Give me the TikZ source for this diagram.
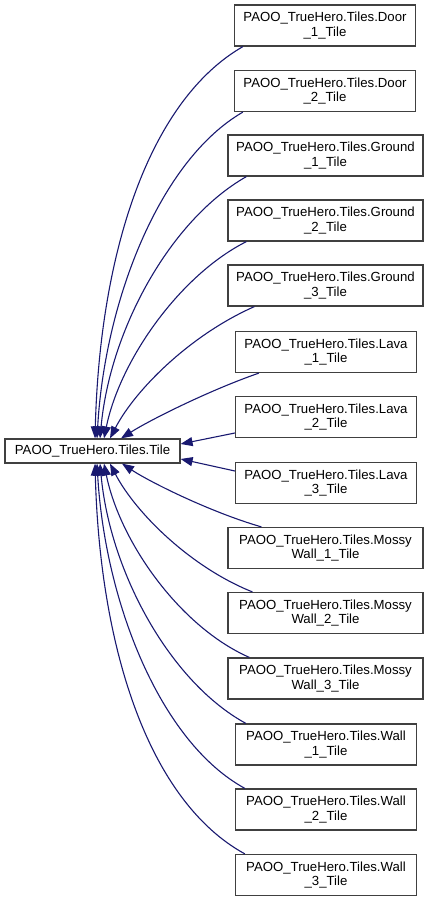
\documentclass[tikz,border=0pt]{standalone}
\usepackage{fontspec}
\setmainfont{Liberation Sans}
\usetikzlibrary{arrows.meta}
\definecolor{edgeblue}{HTML}{191970}
\definecolor{boxgray}{HTML}{404040}
\tikzset{
  cls/.style={draw=boxgray, line width=1.2pt, fill=white, inner sep=0pt, align=center,
    minimum height=41, font=\fontsize{13.2}{14.5}\selectfont},
  narrow/.style={cls, minimum width=181},
  wide/.style={cls, minimum width=195},
  base/.style={draw=boxgray, line width=1.2pt, fill=white, inner sep=0pt,
    minimum width=175, minimum height=24, font=\fontsize{13.2}{14.5}\selectfont},
  edge/.style={draw=edgeblue, line width=1.1pt, -{Triangle[length=12pt,width=9pt,fill=edgeblue]}}
}
\begin{document}
\begin{tikzpicture}[x=1pt,y=-1pt]
\useasboundingbox (0,0) rectangle (429,901);
\node[base] (t) at (92.5,451) {PAOO\_TrueHero.Tiles.Tile};
\node[narrow] (d1) at (325,25.5) {PAOO\_TrueHero.Tiles.Door\\\_1\_Tile};
\node[narrow] (d2) at (325,91) {PAOO\_TrueHero.Tiles.Door\\\_2\_Tile};
\node[wide] (g1) at (325.5,155.5) {PAOO\_TrueHero.Tiles.Ground\\\_1\_Tile};
\node[wide] (g2) at (325.5,220.5) {PAOO\_TrueHero.Tiles.Ground\\\_2\_Tile};
\node[wide] (g3) at (325.5,285.5) {PAOO\_TrueHero.Tiles.Ground\\\_3\_Tile};
\node[narrow] (l1) at (326,352) {PAOO\_TrueHero.Tiles.Lava\\\_1\_Tile};
\node[narrow] (l2) at (326,417) {PAOO\_TrueHero.Tiles.Lava\\\_2\_Tile};
\node[narrow] (l3) at (326,483) {PAOO\_TrueHero.Tiles.Lava\\\_3\_Tile};
\node[wide] (m1) at (325.5,548) {PAOO\_TrueHero.Tiles.Mossy\\Wall\_1\_Tile};
\node[wide] (m2) at (325.5,613) {PAOO\_TrueHero.Tiles.Mossy\\Wall\_2\_Tile};
\node[wide] (m3) at (325.5,678.5) {PAOO\_TrueHero.Tiles.Mossy\\Wall\_3\_Tile};
\node[narrow] (w1) at (326,744.5) {PAOO\_TrueHero.Tiles.Wall\\\_1\_Tile};
\node[narrow] (w2) at (326,809.5) {PAOO\_TrueHero.Tiles.Wall\\\_2\_Tile};
\node[narrow] (w3) at (326,875) {PAOO\_TrueHero.Tiles.Wall\\\_3\_Tile};
% upper edges
\draw[edge] ([xshift=9]d1.south west) .. controls (150,100) and (100,250) .. ([xshift=2.5]t.north);
\draw[edge] ([xshift=9]d2.south west) .. controls (160,160) and (105,300) .. ([xshift=4.5]t.north);
\draw[edge] ([xshift=19]g1.south west) .. controls (170,220) and (110,330) .. ([xshift=7.5]t.north);
\draw[edge] ([xshift=19]g2.south west) .. controls (180,275) and (120,360) .. ([xshift=11.5]t.north);
\draw[edge] ([xshift=27]g3.south west) .. controls (190,335) and (135,390) .. ([xshift=17.5]t.north);
\draw[edge] ([xshift=24]l1.south west) .. controls (210,390) and (150,420) .. ([xshift=28.5]t.north);
\draw[edge] ([yshift=-16]l2.west) -- ([yshift=7]t.east);
\draw[edge] ([yshift=12]l3.west) -- ([yshift=-8]t.east);
% lower edges
\draw[edge] ([xshift=34]m1.north west) .. controls (210,512) and (150,482) .. ([xshift=29.5]t.south);
\draw[edge] ([xshift=25]m2.north west) .. controls (190,567) and (135,512) .. ([xshift=17.5]t.south);
\draw[edge] ([xshift=22]m3.north west) .. controls (180,627) and (120,542) .. ([xshift=11.5]t.south);
\draw[edge] ([xshift=11]w1.north west) .. controls (170,682) and (110,572) .. ([xshift=7.5]t.south);
\draw[edge] ([xshift=10]w2.north west) .. controls (160,742) and (105,602) .. ([xshift=4.5]t.south);
\draw[edge] ([xshift=10]w3.north west) .. controls (150,802) and (100,652) .. ([xshift=2.5]t.south);
\end{tikzpicture}
\end{document}
